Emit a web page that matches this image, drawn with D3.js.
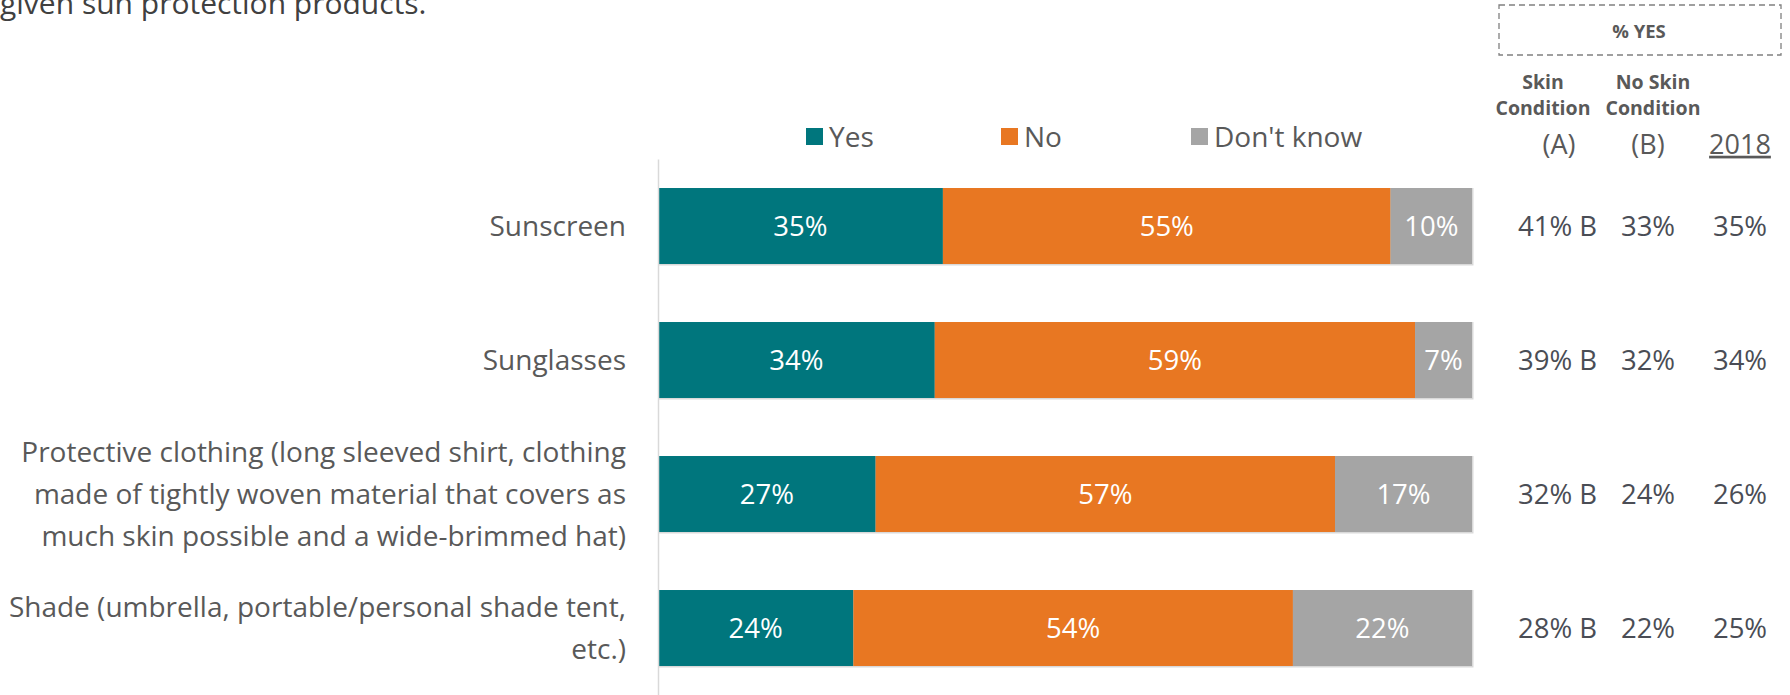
<!DOCTYPE html>
<html><head><meta charset="utf-8">
<script src="https://cdn.jsdelivr.net/npm/d3@7/dist/d3.min.js"></script>
<style>
html,body{margin:0;padding:0;background:#fff;overflow:hidden;}
svg{display:block;font-family:"Open Sans","Noto Sans",sans-serif;}
</style></head><body>
<svg id="chart" width="1790" height="695"></svg>
<script>
const categories = [
  ["Sunscreen"],
  ["Sunglasses"],
  ["Protective clothing (long sleeved shirt, clothing", "made of tightly woven material that covers as", "much skin possible and a wide-brimmed hat)"],
  ["Shade (umbrella, portable/personal shade tent,", "etc.)"]
];
const categoryKeys = ["Sunscreen", "Sunglasses", "Protective clothing", "Shade"];
const seriesNames = ["Yes", "No", "Don't know"];
const yesValues = [35, 34, 27, 24];
const noValues = [55, 59, 57, 54];
const dkValues = [10, 7, 17, 22];
const colSkin = ["41% B", "39% B", "32% B", "28% B"];
const colNoSkin = ["33%", "32%", "24%", "22%"];
const col2018 = ["35%", "34%", "26%", "25%"];
const colors = ["#00767D", "#E87722", "#A5A5A5"];

const svg = d3.select("#chart");

const rows = categoryKeys.map((k, i) => ({key: k, "Yes": yesValues[i], "No": noValues[i], "Don't know": dkValues[i]}));
const stack = d3.stack().keys(seriesNames).offset(d3.stackOffsetExpand);
const series = stack(rows);

const x = d3.scaleLinear().domain([0, 1]).range([658, 1472]);
const y = d3.scaleBand().domain(categoryKeys).range([159, 695]).paddingInner(0.433).paddingOuter(0.2165);
const color = d3.scaleOrdinal().domain(seriesNames).range(colors);

// title fragment (cropped at top, as in the source)
svg.append("text").attr("x", 0).attr("y", 14).attr("font-size", 30).attr("fill", "#404040")
  .text("given sun protection products.");

// row outlines
svg.append("g").selectAll("rect").data(categoryKeys).join("rect")
  .attr("x", x(0)).attr("y", d => y(d))
  .attr("width", x(1) - x(0) + 1.5).attr("height", y.bandwidth() + 1.5)
  .attr("fill", "#d9d9d9");

// bars
const g = svg.append("g");
series.forEach(s => {
  g.append("g").attr("fill", color(s.key)).selectAll("rect").data(s).join("rect")
    .attr("x", d => x(d[0])).attr("y", d => y(d.data.key))
    .attr("width", d => x(d[1]) - x(d[0])).attr("height", y.bandwidth());
  g.append("g").selectAll("text").data(s).join("text")
    .attr("x", d => (x(d[0]) + x(d[1])) / 2).attr("y", d => y(d.data.key) + y.bandwidth() / 2)
    .attr("dy", "0.36em").attr("text-anchor", "middle").attr("fill", "#fff").attr("font-size", 27.5)
    .text(d => d.data[s.key] + "%");
});

// axis line
const yAxis = d3.axisLeft(y).tickSize(0).tickFormat("");
const ax = svg.append("g").attr("transform", `translate(${x(0)},0)`).call(yAxis);
ax.select(".domain").attr("stroke", "#d9d9d9").attr("stroke-width", 1.5);

// category labels
const lineH = 42;
svg.append("g").selectAll("text").data(categoryKeys).join("text")
  .attr("text-anchor", "end").attr("font-size", 28).attr("fill", "#595959")
  .each(function(d, i) {
    const lines = categories[i];
    const cy = y(d) + y.bandwidth() / 2 - (lines.length - 1) * lineH / 2;
    d3.select(this).selectAll("tspan").data(lines).join("tspan")
      .attr("x", 626).attr("y", (l, j) => cy + j * lineH).attr("dy", "0.36em").text(l => l);
  });

// legend
const legX = [806, 1001, 1191];
const leg = svg.append("g").selectAll("g").data(seriesNames).join("g")
  .attr("transform", (d, i) => `translate(${legX[i]},0)`);
leg.append("rect").attr("x", 0).attr("y", 128).attr("width", 17).attr("height", 17).attr("fill", d => color(d));
leg.append("text").attr("x", 23).attr("y", 137).attr("dy", "0.36em").attr("font-size", 28).attr("fill", "#595959").text(d => d);

// right header
const hdr = svg.append("g").attr("fill", "#595959");
hdr.append("rect").attr("x", 1499).attr("y", 5).attr("width", 282).attr("height", 50)
  .attr("fill", "none").attr("stroke", "#808080").attr("stroke-width", 1.3).attr("stroke-dasharray", "6,4");
hdr.append("text").attr("x", 1639).attr("y", 31).attr("dy", "0.36em").attr("text-anchor", "middle")
  .attr("font-size", 18.5).attr("font-weight", "bold").text("% YES");
const hcols = [{cx: 1543, l: ["Skin", "Condition"]}, {cx: 1653, l: ["No Skin", "Condition"]}];
hcols.forEach(c => {
  c.l.forEach((t, j) => hdr.append("text").attr("x", c.cx).attr("y", 82 + j * 26).attr("dy", "0.36em")
    .attr("text-anchor", "middle").attr("font-size", 19.5).attr("font-weight", "bold").text(t));
});
hdr.append("text").attr("x", 1559).attr("y", 144).attr("dy", "0.36em").attr("text-anchor", "middle").attr("font-size", 27).text("(A)");
hdr.append("text").attr("x", 1648).attr("y", 144).attr("dy", "0.36em").attr("text-anchor", "middle").attr("font-size", 27).text("(B)");
hdr.append("text").attr("x", 1740).attr("y", 144).attr("dy", "0.36em").attr("text-anchor", "middle").attr("font-size", 27)
  .attr("text-decoration", "underline").text("2018");

// right values
const rv = svg.append("g").attr("fill", "#4a4d55").attr("font-size", 27.5);
rv.selectAll("text.a").data(categoryKeys).join("text").attr("class", "a")
  .attr("x", 1518).attr("y", d => y(d) + y.bandwidth() / 2).attr("dy", "0.36em").text((d, i) => colSkin[i]);
rv.selectAll("text.b").data(categoryKeys).join("text").attr("class", "b")
  .attr("x", 1648).attr("text-anchor", "middle").attr("y", d => y(d) + y.bandwidth() / 2).attr("dy", "0.36em").text((d, i) => colNoSkin[i]);
rv.selectAll("text.c").data(categoryKeys).join("text").attr("class", "c")
  .attr("x", 1740).attr("text-anchor", "middle").attr("y", d => y(d) + y.bandwidth() / 2).attr("dy", "0.36em").text((d, i) => col2018[i]);
</script>
</body></html>
